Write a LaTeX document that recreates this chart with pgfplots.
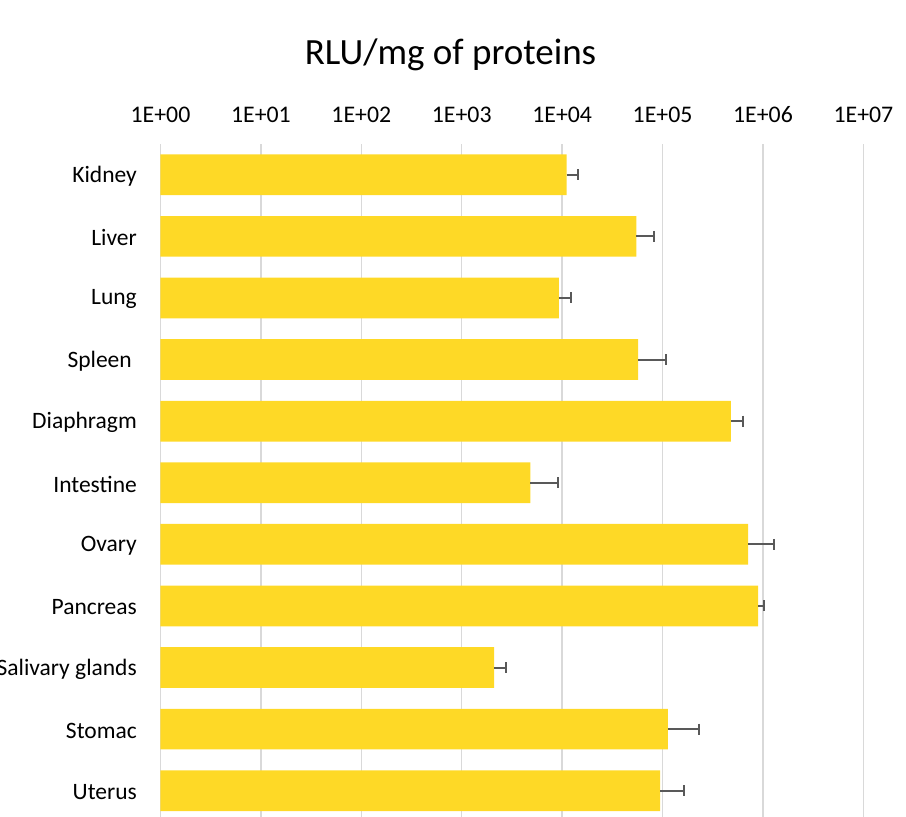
\documentclass[border=0pt]{standalone}
\usepackage{fontspec}
\setmainfont{Carlito}
\usepackage{pgfplots}
\pgfplotsset{compat=1.18}
\usepackage{pgfplotstable}
\definecolor{baryellow}{RGB}{254,217,38}
\definecolor{errgray}{RGB}{89,89,89}
\definecolor{gridgray}{RGB}{217,217,217}

\pgfplotstableread{
idx val err
0 11100 3400
1 54800 27200
2 9250 3050
3 57000 50000
4 478000 160000
5 4820 4220
6 710000 580000
7 893000 137000
8 2100 640
9 113000 120000
10 94500 70500
}\datatable

\begin{document}
\begin{tikzpicture}
\begin{axis}[
  at={(0,0)}, anchor=south west,
  scale only axis, width=702.9bp, height=673bp,
  xmode=log, xmin=1, xmax=1e7,
  ymin=-0.5, ymax=10.427, y dir=reverse,
  xtick={1,10,100,1000,10000,100000,1000000,10000000},
  xticklabels={1E+00,1E+01,1E+02,1E+03,1E+04,1E+05,1E+06,1E+07},
  xticklabel pos=right,
  xticklabel style={anchor=base, inner sep=0pt, yshift=21.5bp, font=\fontsize{23.8bp}{28bp}\selectfont},
  ytick={0,...,10},
  yticklabels={Kidney,Liver,Lung,Spleen\kern5bp,Diaphragm,Intestine,Ovary,Pancreas,Salivary glands,Stomac,Uterus},
  yticklabel style={anchor=east, inner sep=0pt, xshift=-23.5bp, yshift=-1.5bp, font=\fontsize{23.5bp}{28bp}\selectfont},
  xmajorgrids, ymajorgrids=false, xminorgrids=false,
  major grid style={gridgray, line width=1.5bp},
  axis line style={draw=none},
  tick style={draw=none},
  major tick length=0pt, minor tick length=0pt,
  xbar, bar width=40.7bp,
  every error bar/.append style={line width=2bp},
]
\addplot[xbar, fill=baryellow, draw=none,
  error bars/.cd, x dir=plus, x explicit, error mark=|,
  error bar style={draw=errgray, line width=2bp},
  error mark options={draw=errgray, line width=2bp, mark size=5.5bp}]
  table[x=val, y=idx, x error=err] {\datatable};
\end{axis}
\node[font=\fontsize{37bp}{44bp}\selectfont, anchor=center] at (290bp, 762bp) {RLU/mg of proteins};
\pgfresetboundingbox
\path (-160.5bp,0) rectangle (745.5bp,817bp);
\end{tikzpicture}
\end{document}
